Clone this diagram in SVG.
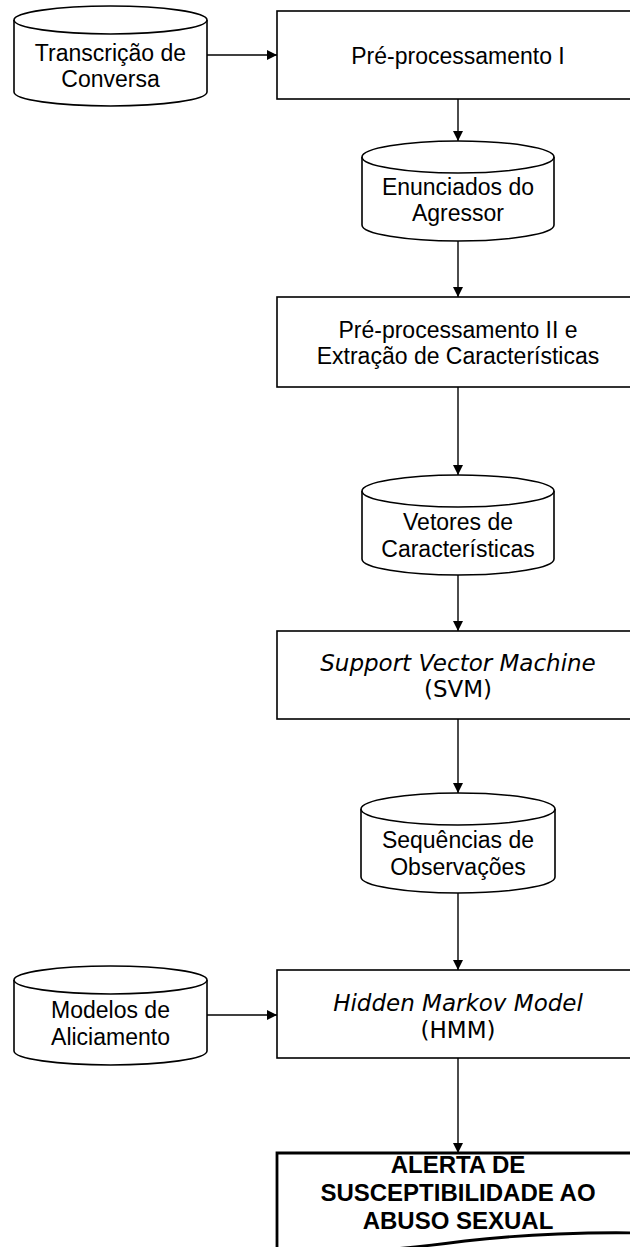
<svg xmlns="http://www.w3.org/2000/svg" width="630" height="1247" viewBox="0 0 630 1247">
<defs>
<marker id="ah" viewBox="0 0 10 10" refX="10" refY="5" markerWidth="10" markerHeight="10" markerUnits="userSpaceOnUse" orient="auto">
<path d="M0,0 L10,5 L0,10 Z" fill="#000"/>
</marker>
<style>
.shape{fill:#fff;stroke:#000;stroke-width:1.6}
.t{font-family:"Liberation Sans",Arial,sans-serif;font-size:23px;fill:#000;text-anchor:middle}
.v{font-family:"DejaVu Sans",Verdana,sans-serif;font-size:23px;fill:#000;text-anchor:middle}
.b{font-family:"Liberation Sans",Arial,sans-serif;font-size:24px;font-weight:bold;fill:#000;text-anchor:middle}
.c{fill:none;stroke:#000;stroke-width:1.4;marker-end:url(#ah)}
</style>
</defs>
<rect width="630" height="1247" fill="#fff"/>

<g id="connectors">
<line class="c" x1="207" y1="55" x2="277" y2="55"/>
<line class="c" x1="458" y1="99" x2="458" y2="141"/>
<line class="c" x1="458" y1="241" x2="458" y2="297"/>
<line class="c" x1="458" y1="387" x2="458" y2="475"/>
<line class="c" x1="458" y1="575" x2="458" y2="631"/>
<line class="c" x1="458" y1="719" x2="458" y2="793"/>
<line class="c" x1="458" y1="893" x2="458" y2="970"/>
<line class="c" x1="207" y1="1015" x2="277" y2="1015"/>
<line class="c" x1="458" y1="1058" x2="458" y2="1153"/>
</g>

<g id="transcricao">
<path class="shape" d="M14,20 A96.5,14 0 0 1 207,20 V92 A96.5,14 0 0 1 14,92 Z"/>
<path class="shape" fill="none" d="M14,20 A96.5,14 0 0 0 207,20"/>
<text class="t" x="110.5" y="61">Transcrição de</text>
<text class="t" x="110.5" y="87">Conversa</text>
</g>

<g id="preproc1">
<rect class="shape" x="277" y="11" width="362" height="88"/>
<text class="t" x="458" y="64">Pré-processamento I</text>
</g>

<g id="enunciados">
<path class="shape" d="M362,157 A96,16 0 0 1 554,157 V225 A96,16 0 0 1 362,225 Z"/>
<path class="shape" fill="none" d="M362,157 A96,16 0 0 0 554,157"/>
<text class="t" x="458" y="195">Enunciados do</text>
<text class="t" x="458" y="221">Agressor</text>
</g>

<g id="preproc2">
<rect class="shape" x="277" y="297" width="362" height="90"/>
<text class="t" x="458" y="338">Pré-processamento II e</text>
<text class="t" x="458" y="364">Extração de Características</text>
</g>

<g id="vetores">
<path class="shape" d="M362,491 A96,16 0 0 1 554,491 V559 A96,16 0 0 1 362,559 Z"/>
<path class="shape" fill="none" d="M362,491 A96,16 0 0 0 554,491"/>
<text class="t" x="458" y="530">Vetores de</text>
<text class="t" x="458" y="557">Características</text>
</g>

<g id="svm">
<rect class="shape" x="277" y="631" width="362" height="88"/>
<text class="v" x="458" y="671" font-style="italic">Support Vector Machine</text>
<text class="v" x="458" y="697">(SVM)</text>
</g>

<g id="sequencias">
<path class="shape" d="M361,809 A97,16 0 0 1 555,809 V877 A97,16 0 0 1 361,877 Z"/>
<path class="shape" fill="none" d="M361,809 A97,16 0 0 0 555,809"/>
<text class="t" x="458" y="848">Sequências de</text>
<text class="t" x="458" y="875">Observações</text>
</g>

<g id="modelos">
<path class="shape" d="M14,980 A96.5,14 0 0 1 207,980 V1051 A96.5,14 0 0 1 14,1051 Z"/>
<path class="shape" fill="none" d="M14,980 A96.5,14 0 0 0 207,980"/>
<text class="t" x="110.5" y="1018">Modelos de</text>
<text class="t" x="110.5" y="1045">Aliciamento</text>
</g>

<g id="hmm">
<rect class="shape" x="277" y="970" width="362" height="88"/>
<text class="v" x="458" y="1011" font-style="italic">Hidden Markov Model</text>
<text class="v" x="458" y="1038">(HMM)</text>
</g>

<g id="alerta">
<path d="M277,1153 H640 V1233 C595,1232 525,1234 465,1241 C405,1249 335,1256 277,1251 Z" fill="#fff" stroke="#000" stroke-width="2.8"/>
<text class="b" x="458" y="1173">ALERTA DE</text>
<text class="b" x="458" y="1201">SUSCEPTIBILIDADE AO</text>
<text class="b" x="458" y="1229">ABUSO SEXUAL</text>
</g>
</svg>
